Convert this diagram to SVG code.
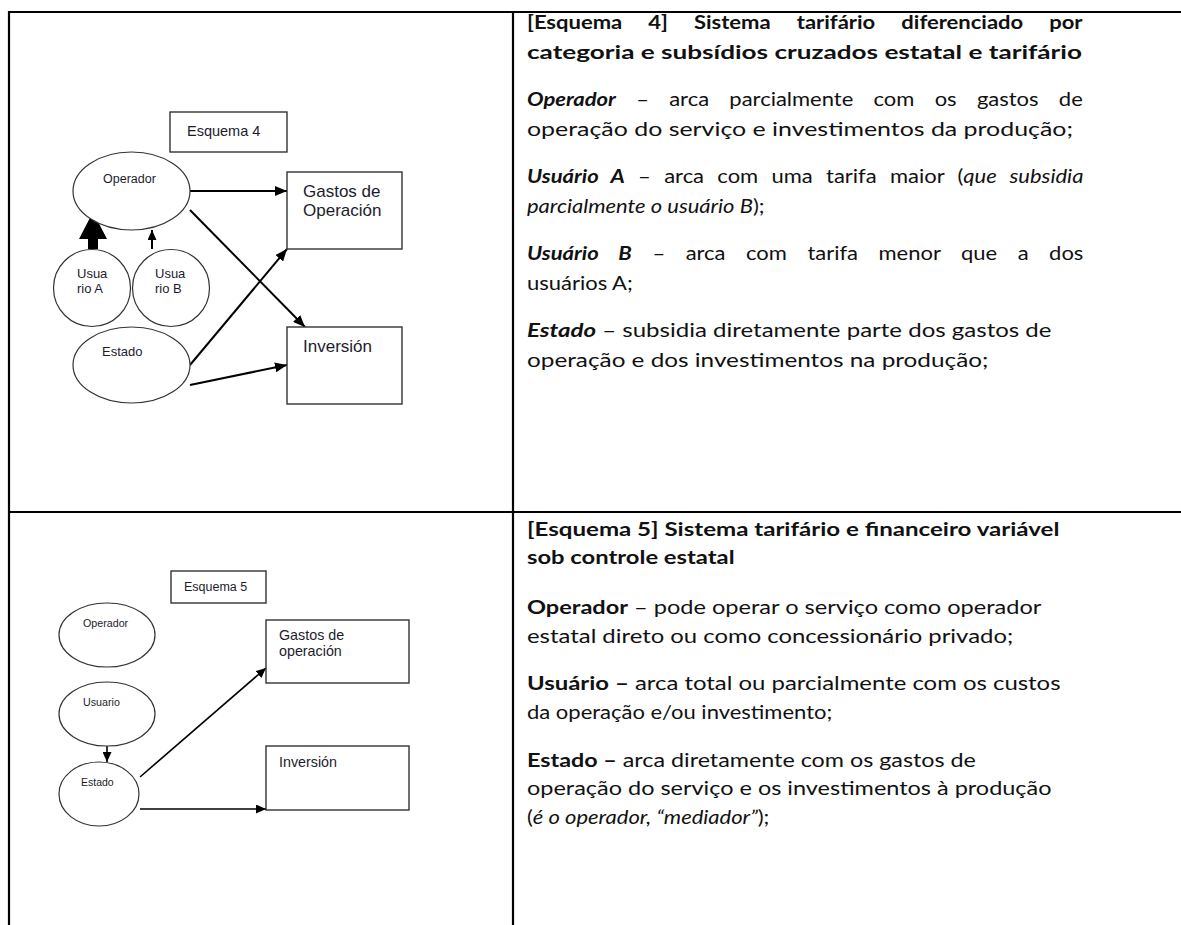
<svg xmlns="http://www.w3.org/2000/svg" width="1181" height="925" viewBox="0 0 1181 925">
<defs>
<style>
.grid{stroke:#000;stroke-width:2.2;fill:none}
.box{fill:#fff;stroke:#333;stroke-width:1.4}
.ell{fill:#fff;stroke:#333;stroke-width:1.2}
.con{stroke:#000;stroke-width:2;fill:none}
.con2{stroke:#000;stroke-width:1.6;fill:none}
.dl{font-family:"Liberation Sans",Arial,sans-serif;fill:#1c1c2e}
.tx{font-family:Lato,"Open Sans",sans-serif;font-size:19.5px;fill:#111}
.b{font-weight:bold}
.i{font-style:italic}
</style>
<marker id="ah" markerUnits="userSpaceOnUse" markerWidth="13" markerHeight="10" refX="12" refY="5" orient="auto">
<path d="M0,0 L12,5 L0,10 z" fill="#000"/>
</marker>
<marker id="ah2" markerUnits="userSpaceOnUse" markerWidth="11" markerHeight="9" refX="10" refY="4.5" orient="auto">
<path d="M0,0 L10,4.5 L0,9 z" fill="#000"/>
</marker>
</defs>

<g id="table">
<line class="grid" x1="8" y1="12" x2="1181" y2="12"/>
<line class="grid" x1="8" y1="512" x2="1181" y2="512"/>
<line class="grid" x1="9" y1="11" x2="9" y2="925"/>
<line class="grid" x1="513" y1="11" x2="513" y2="925"/>
</g>

<g id="connectors">
<line class="con" x1="190" y1="191" x2="287" y2="191" marker-end="url(#ah)"/>
<line class="con" x1="190" y1="210" x2="305" y2="327" marker-end="url(#ah)"/>
<line class="con" x1="190" y1="365" x2="287" y2="249" marker-end="url(#ah)"/>
<line class="con" x1="190" y1="385" x2="287" y2="365" marker-end="url(#ah)"/>
<polygon points="88,249 98,249 98,239 107,239 93,212 79,239 88,239" fill="#000"/>
<line class="con" x1="152" y1="249" x2="152" y2="230" marker-end="url(#ah2)"/>
<line class="con2" x1="107" y1="746" x2="107" y2="762" marker-end="url(#ah2)"/>
<line class="con2" x1="140" y1="777" x2="266" y2="668" marker-end="url(#ah2)"/>
<line class="con2" x1="140" y1="809" x2="266" y2="809" marker-end="url(#ah2)"/>
</g>

<g id="s4-title"><rect class="box" x="170" y="112" width="117" height="40"/><text class="dl" x="187" y="136" font-size="14.5">Esquema 4</text></g>
<g id="s4-operador"><ellipse class="ell" cx="131.5" cy="191" rx="58.5" ry="39"/><text class="dl" x="103" y="183" font-size="12.5">Operador</text></g>
<g id="s4-gastos"><rect class="box" x="287" y="172" width="115" height="77"/><text class="dl" x="303" y="197" font-size="17">Gastos de</text><text class="dl" x="303" y="216" font-size="17">Operación</text></g>
<g id="s4-inversion"><rect class="box" x="287" y="327" width="115" height="77"/><text class="dl" x="303" y="352" font-size="17">Inversión</text></g>
<g id="s4-usuarioA"><ellipse class="ell" cx="92" cy="288" rx="38.5" ry="38.5"/><text class="dl" x="77" y="278" font-size="13">Usua</text><text class="dl" x="77" y="293" font-size="13">rio A</text></g>
<g id="s4-usuarioB"><ellipse class="ell" cx="171" cy="288" rx="38.5" ry="38.5"/><text class="dl" x="155" y="278" font-size="13">Usua</text><text class="dl" x="155" y="293" font-size="13">rio B</text></g>
<g id="s4-estado"><ellipse class="ell" cx="131.5" cy="365" rx="58.5" ry="38"/><text class="dl" x="102" y="356" font-size="13">Estado</text></g>

<g id="s5-title"><rect class="box" x="171" y="571" width="95" height="32"/><text class="dl" x="184" y="591" font-size="12.5">Esquema 5</text></g>
<g id="s5-operador"><ellipse class="ell" cx="107" cy="635" rx="48" ry="32"/><text class="dl" x="83" y="627" font-size="10.7">Operador</text></g>
<g id="s5-usuario"><ellipse class="ell" cx="107" cy="714" rx="48" ry="32"/><text class="dl" x="83" y="706" font-size="10.7">Usuario</text></g>
<g id="s5-estado"><ellipse class="ell" cx="99" cy="794" rx="40" ry="32"/><text class="dl" x="81" y="786" font-size="10.5">Estado</text></g>
<g id="s5-gastos"><rect class="box" x="266" y="620" width="143" height="63"/><text class="dl" x="279" y="640" font-size="14.3">Gastos de</text><text class="dl" x="279" y="656" font-size="14.3">operación</text></g>
<g id="s5-inversion"><rect class="box" x="266" y="746" width="143" height="64"/><text class="dl" x="279" y="767" font-size="14.3">Inversión</text></g>

<g id="text-s4" transform="translate(527,0) scale(1.128,1)">
<text class="tx b" x="0" y="29" word-spacing="18.4">[Esquema 4] Sistema tarifário diferenciado por</text>
<text class="tx b" x="0" y="59" textLength="492" lengthAdjust="spacingAndGlyphs">categoria e subsídios cruzados estatal e tarifário</text>
<text class="tx" x="0" y="106" word-spacing="13"><tspan class="b i">Operador</tspan> – arca parcialmente com os gastos de</text>
<text class="tx" x="0" y="136" textLength="484" lengthAdjust="spacingAndGlyphs">operação do serviço e investimentos da produção;</text>
<text class="tx" x="0" y="183" word-spacing="6.8"><tspan class="b i">Usuário A</tspan> – arca com uma tarifa maior (<tspan class="i">que subsidia</tspan></text>
<text class="tx" x="0" y="213"><tspan class="i">parcialmente o usuário B</tspan>);</text>
<text class="tx" x="0" y="260" word-spacing="13.2"><tspan class="b i">Usuário B</tspan> – arca com tarifa menor que a dos</text>
<text class="tx" x="0" y="290">usuários A;</text>
<text class="tx" x="0" y="337" textLength="465" lengthAdjust="spacingAndGlyphs"><tspan class="b i">Estado</tspan> – subsidia diretamente parte dos gastos de</text>
<text class="tx" x="0" y="367" textLength="409" lengthAdjust="spacingAndGlyphs">operação e dos investimentos na produção;</text>
</g>

<g id="text-s5" transform="translate(527,0) scale(1.128,1)">
<text class="tx b" x="0" y="536" textLength="472" lengthAdjust="spacingAndGlyphs">[Esquema 5] Sistema tarifário e financeiro variável</text>
<text class="tx b" x="0" y="564" textLength="184" lengthAdjust="spacingAndGlyphs">sob controle estatal</text>
<text class="tx" x="0" y="614" textLength="456" lengthAdjust="spacingAndGlyphs"><tspan class="b">Operador</tspan> – pode operar o serviço como operador</text>
<text class="tx" x="0" y="643" textLength="431" lengthAdjust="spacingAndGlyphs">estatal direto ou como concessionário privado;</text>
<text class="tx" x="0" y="690" textLength="473" lengthAdjust="spacingAndGlyphs"><tspan class="b">Usuário –</tspan> arca total ou parcialmente com os custos</text>
<text class="tx" x="0" y="719">da operação e/ou investimento;</text>
<text class="tx" x="0" y="767" textLength="398" lengthAdjust="spacingAndGlyphs"><tspan class="b">Estado –</tspan> arca diretamente com os gastos de</text>
<text class="tx" x="0" y="795" textLength="465" lengthAdjust="spacingAndGlyphs">operação do serviço e os investimentos à produção</text>
<text class="tx" x="0" y="824">(<tspan class="i">é o operador, “mediador”</tspan>);</text>
</g>
</svg>
